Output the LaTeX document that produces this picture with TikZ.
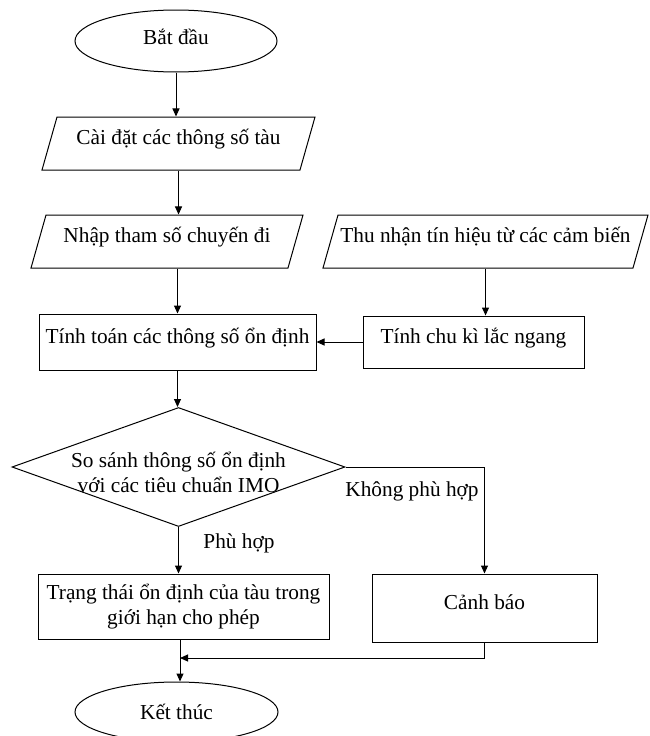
\documentclass[tikz,border=0pt]{standalone}
\usepackage{fontspec}
\setmainfont{Liberation Serif}
\usetikzlibrary{shapes.geometric,arrows.meta}
\begin{document}
\begin{tikzpicture}[x=1pt,y=-1pt,
  every node/.style={font=\fontsize{21.3}{25}\selectfont, line width=1pt, inner sep=0pt},
  raised/.style={text height=14pt, text depth=12pt},
  term/.style={draw, ellipse, minimum width=202pt, minimum height=62pt},
  io/.style={draw, trapezium, trapezium left angle=60, trapezium right angle=120, trapezium stretches body, minimum height=53pt, raised},
  proc/.style={draw, rectangle, align=center},
  dec/.style={draw, diamond, aspect=2.8, minimum width=333pt, minimum height=119pt},
  arr/.style={-{Triangle[length=8pt,width=7pt]}, line width=1pt},
  lbl/.style={}
]
\useasboundingbox (0,0) rectangle (649,736);
\node[term, text height=14pt, text depth=8pt] (start) at (176,41) {Bắt đầu};
\node[io, minimum width=273pt] (p1) at (178.5,143.5) {Cài đặt các thông số tàu};
\node[io, minimum width=272pt] (p2) at (167,241.5) {Nhập tham số chuyến đi};
\node[io, minimum width=325pt] (sens) at (485.5,241.5) {Thu nhận tín hiệu từ các cảm biến};
\node[proc, raised, minimum width=277pt, minimum height=56pt] (calc) at (177.5,342) {Tính toán các thông số ổn định};
\node[proc, raised, minimum width=221pt, minimum height=52pt] (roll) at (473.5,342) {Tính chu kì lắc ngang};
\node[dec, label={[align=center, yshift=-5pt]center:So sánh thông số ổn định\\với các tiêu chuẩn IMO}] (cmp) at (178.5,467) {};
\node[proc, minimum width=291pt, minimum height=65pt] (ok) at (183.5,606.5) {Trạng thái ổn định của tàu trong\\giới hạn cho phép};
\node[proc, raised, minimum width=225pt, minimum height=68pt] (warn) at (484.5,608) {Cảnh báo};
\node[term, minimum width=203pt, minimum height=60pt] (end) at (176.5,712) {Kết thúc};
\node[lbl] (lno) at (412,491) {Không phù hợp};
\node[lbl] (lyes) at (239,543) {Phù hợp};
\coordinate (j) at (180,658);

\draw[arr] (start.south) -- (start.south |- p1.north);
\draw[arr] (p1.south) -- (p1.south |- p2.north);
\draw[arr] (calc.north |- p2.south) -- (calc.north);
\draw[arr] (sens.south) -- (sens.south |- roll.north);
\draw[arr] (roll.west) -- (calc.east);
\draw[arr] (calc.south) -- (calc.south |- cmp.north);
\draw[arr] (cmp.south) -- (cmp.south |- ok.north);
\draw[arr] (cmp.east) -| (warn.north);
\draw[arr] (warn.south) |- (j);
\draw[arr] (j |- ok.south) -- (j |- end.north);
\end{tikzpicture}
\end{document}
